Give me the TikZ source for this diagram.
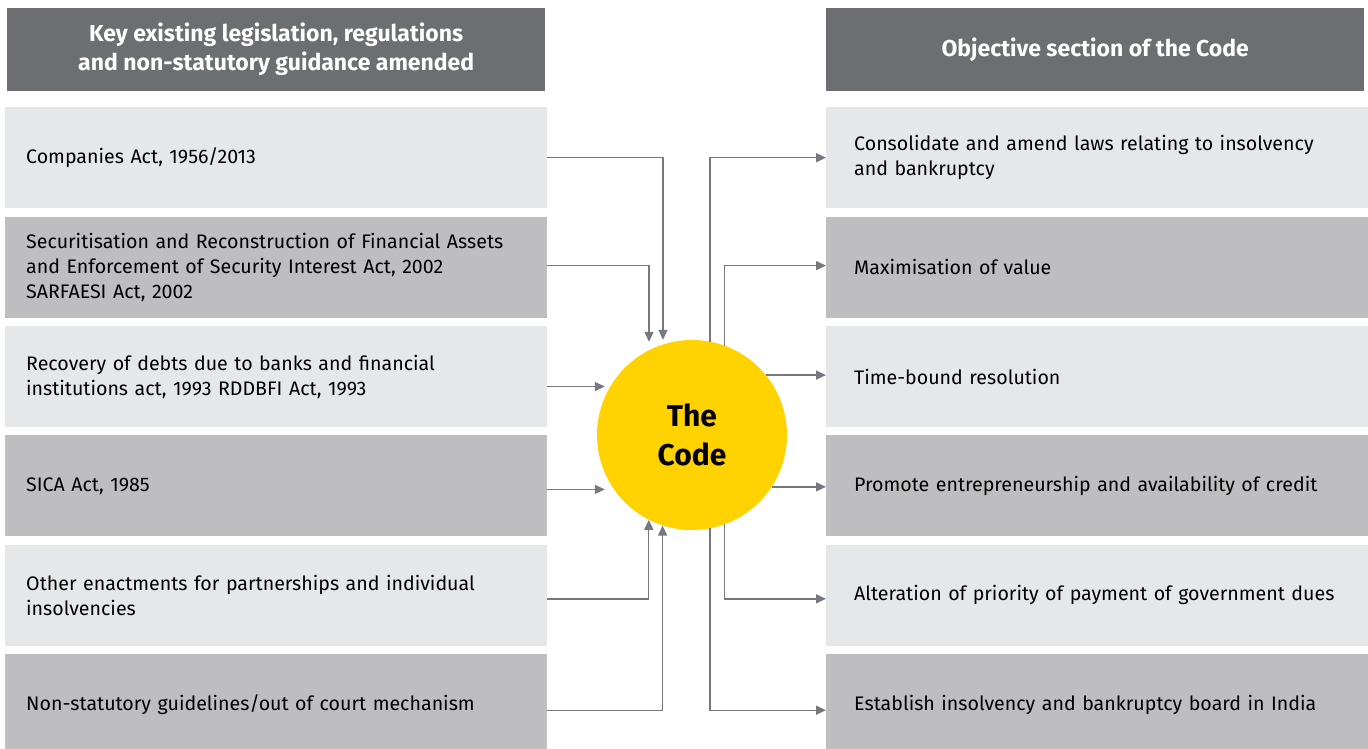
\documentclass[tikz,border=0pt]{standalone}
\usepackage{fontspec}
\setmainfont{Fira Sans}
\usetikzlibrary{arrows.meta,positioning}
\definecolor{headgrey}{HTML}{6D6E71}
\definecolor{rowlight}{HTML}{E6E7E8}
\definecolor{rowdark}{HTML}{BEBEC0}
\definecolor{codeyellow}{HTML}{FFD200}
\definecolor{linkgrey}{HTML}{77777F}

\begin{document}
\begin{tikzpicture}[
		x=1pt, y=-1pt,
		node distance=8pt,
		head/.style={anchor=north west, fill=headgrey, text=white, align=center, minimum width=538pt, minimum height=83pt, inner sep=0pt, font=\bfseries\fontsize{23}{29}\selectfont},
		lbox/.style={anchor=north west, minimum height=101pt, text width=500pt, inner xsep=21pt, inner ysep=0pt, align=left, font=\fontsize{19.6}{25}\selectfont},
		rbox/.style={lbox, text width=504pt, inner xsep=28pt},
		light/.style={fill=rowlight},
		dark/.style={fill=rowdark},
		link/.style={draw=linkgrey, line width=1.4pt, -{Triangle[length=10pt, width=9pt]}},
	]
		\useasboundingbox (0,0) rectangle (1368,749);
		
		\node [head] (head a) at (7,8) {Key existing legislation, regulations\\and non-statutory guidance amended};
		\node [head] (head b) at (826,8) {Objective section of the Code};
		
		\node [lbox, light] (law a) at (5,107) {Companies Act, 1956/2013};
		\node [lbox, dark, below=of law a] (law b) {Securitisation and Reconstruction of Financial Assets\\and Enforcement of Security Interest Act, 2002\\SARFAESI Act, 2002};
		\node [lbox, light, below=of law b] (law c) {Recovery of debts due to banks and financial\\institutions act, 1993 RDDBFI Act, 1993};
		\node [lbox, dark, below=of law c] (law d) {SICA Act, 1985};
		\node [lbox, light, below=of law d] (law e) {Other enactments for partnerships and individual\\insolvencies};
		\node [lbox, dark, below=of law e] (law f) {Non-statutory guidelines/out of court mechanism};
		
		\node [rbox, light] (aim a) at (826,107) {Consolidate and amend laws relating to insolvency\\and bankruptcy};
		\node [rbox, dark, below=of aim a] (aim b) {Maximisation of value};
		\node [rbox, light, below=of aim b] (aim c) {Time-bound resolution};
		\node [rbox, dark, below=of aim c] (aim d) {Promote entrepreneurship and availability of credit};
		\node [rbox, light, below=of aim d] (aim e) {Alteration of priority of payment of government dues};
		\node [rbox, dark, below=of aim e] (aim f) {Establish insolvency and bankruptcy board in India};
		
		\node [circle, fill=codeyellow, minimum size=190pt, inner sep=0pt, align=center, font=\bfseries\fontsize{30}{39}\selectfont] (code) at (692,435) {The\\Code};
		
		\draw[link] (law a.east) -| ([xshift=-29pt]code.north);
		\draw[link] ([yshift=1.5pt]law b.east) -| ([xshift=-43pt, yshift=-2pt]code.north);
		\draw[link] ([yshift=-10pt]law c.east) -- ([xshift=8pt, yshift=-10pt]law c.east -| code.west);
		\draw[link] ([yshift=-3.5pt]law d.east) -- ([xshift=8pt, yshift=-3.5pt]law d.east -| code.west);
		\draw[link] ([yshift=-3.5pt]law e.east) -| (code.-117);
		\draw[link] ([yshift=-5.5pt]law f.east) -| (code.-108);
		
		\draw[link] (code.79) |- (aim a.west);
		\draw[link] (code.70) |- ([yshift=1.5pt]aim b.west);
		\draw[link] (code.39) -- (code.39 -| aim c.west);
		\draw[link] (code.-33) -- (code.-33 -| aim d.west);
		\draw[link] (code.-70) |- ([yshift=-3.5pt]aim e.west);
		\draw[link] (code.-79) |- ([yshift=-5.5pt]aim f.west);
	\end{tikzpicture}
\end{document}
